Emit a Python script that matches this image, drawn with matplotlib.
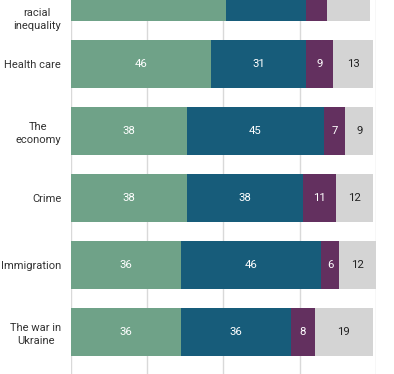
import matplotlib
matplotlib.use("Agg")
import matplotlib.pyplot as plt
import matplotlib.transforms as mtransforms
import numpy as np

plt.rcParams['font.family'] = ['Roboto', 'DejaVu Sans']

categories = ["Race\nrelations\nand\nracial\ninequality", "Health care", "The\neconomy", "Crime",
              "Immigration", "The war in\nUkraine"]
seg1 = [51, 46, 38, 38, 36, 36]
seg2 = [26, 31, 45, 38, 46, 36]
seg3 = [7, 9, 7, 11, 6, 8]
seg4 = [14, 13, 9, 12, 12, 19]
series = [seg1, seg2, seg3, seg4]
colors = ["#6fa288", "#175c7a", "#63305f", "#d4d4d4"]
text_colors = ["white", "white", "white", "#222222"]

W, H = 394, 374
fig = plt.figure(figsize=(W / 100, H / 100), dpi=100)

# axes pixel extents
left_px, right_px = 70.7, 376.0
top_px, bottom_px = -50.0, 374.0
ax = fig.add_axes([left_px / W, 1 - bottom_px / H, (right_px - left_px) / W, (bottom_px - top_px) / H])

row_step = 67.0
first_center = -3.0
y_top = (top_px - first_center) / row_step
y_bot = (bottom_px - first_center) / row_step

y = np.arange(len(categories))
left = np.zeros(len(categories))
for vals, c, tc in zip(series, colors, text_colors):
    vals = np.array(vals, dtype=float)
    ax.barh(y, vals, left=left, height=0.716, color=c, zorder=3, linewidth=0)
    for yi, (l, v) in enumerate(zip(left, vals)):
        ax.text(l + v / 2, yi, f"{int(v)}", ha="center", va="center", color=tc,
                fontsize=8.2, zorder=4)
    left += vals

ax.set_xlim(0, 100)
ax.set_ylim(y_bot, y_top)
ax.set_xticks([0, 25, 50, 75, 100])
ax.xaxis.grid(True, color="#d9d9d9", linewidth=1, zorder=0)
ax.set_yticks([])
ax.tick_params(axis="x", length=0, labelbottom=False)
for s in ax.spines.values():
    s.set_visible(False)

trans = mtransforms.blended_transform_factory(ax.transAxes, ax.transData)
label_x = -9.5 / (right_px - left_px)
clip = mtransforms.TransformedBbox(mtransforms.Bbox([[0, 0], [W, H - 5]]),
                                   mtransforms.IdentityTransform())
for yi, cat in enumerate(categories):
    t = ax.text(label_x, yi, cat, transform=trans, ha="right", va="center_baseline",
                multialignment="center", fontsize=8.0, color="#333333",
                linespacing=1.38, clip_on=False)
    if yi == 0:
        t.set_clip_box(clip)
        t.set_clip_on(True)

fig.savefig("out.png", dpi=100)
